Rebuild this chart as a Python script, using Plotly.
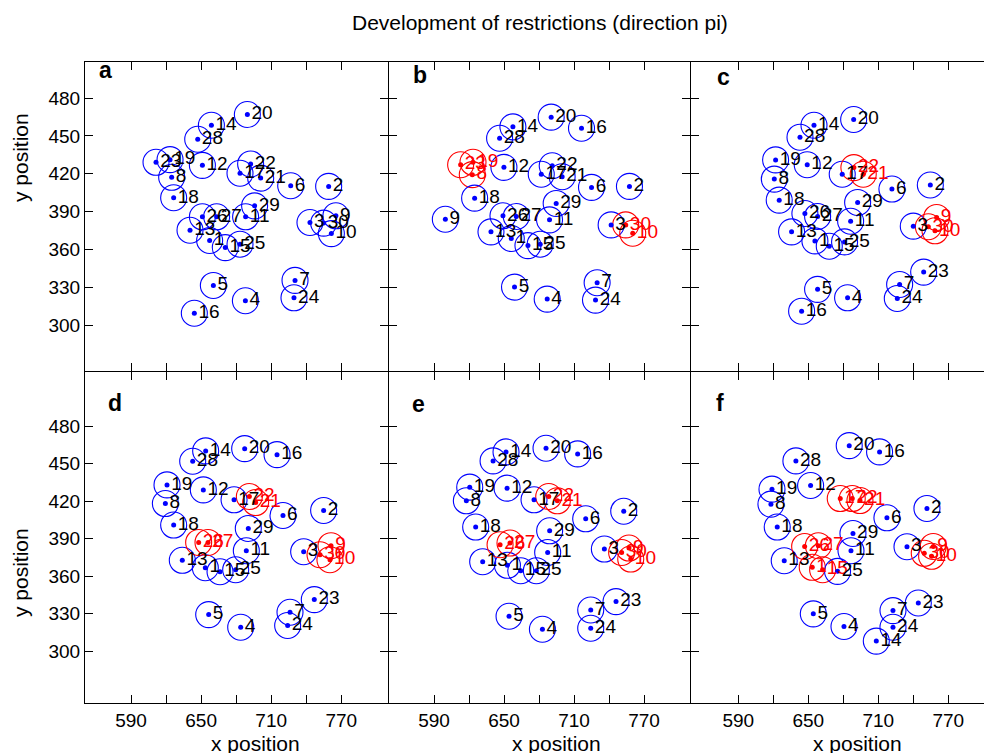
import plotly.graph_objects as go

# point ids 1..30
ids = list(range(1, 31))

# ---- panel a ----
a_x = [657.3, 759.2, 743.2, 687.9, 660.5, 726.7, 730.4, 624.8, 765.4, 761.5,
       688.1, 651.1, 640.5, 658.8, 670.7, 644.2, 683.3, 626.5, 623.4, 689.6,
       701.0, 692.4, 611.4, 729.5, 683.3, 651.1, 663.3, 647.1, 695.8, 754.9]
a_y = [367.1, 410.0, 381.4, 319.4, 331.5, 410.5, 335.5, 417.2, 386.7, 372.6,
       385.9, 426.7, 375.3, 458.5, 361.5, 309.5, 420.4, 401.0, 431.2, 467.0,
       416.6, 427.8, 429.1, 321.7, 364.2, 385.9, 385.9, 447.4, 394.6, 380.9]
a_red = []

# ---- panel b ----
b_x = [656.2, 757.5, 741.8, 687.0, 659.0, 725.0, 729.8, 622.8, 599.7, 760.3,
       689.0, 649.9, 638.8, 657.6, 670.5, 716.4, 681.9, 624.8, 623.4, 690.4,
       699.8, 691.3, 612.8, 728.4, 681.0, 649.1, 660.5, 646.2, 694.7, 754.3]
b_y = [368.7, 410.0, 379.5, 320.7, 330.2, 409.2, 333.7, 419.3, 384.0, 372.9,
       383.5, 425.1, 374.0, 457.2, 363.1, 456.1, 419.6, 400.7, 429.1, 464.9,
       417.7, 426.4, 427.2, 319.9, 364.2, 386.7, 386.2, 448.2, 396.5, 379.5]
b_red = [8, 10, 19, 23, 30]

# ---- panel c ----
c_x = [655.7, 754.6, 740.0, 683.7, 658.0, 721.7, 728.3, 620.9, 760.0, 758.6,
       686.3, 649.1, 635.7, 654.9, 668.0, 644.3, 679.1, 625.1, 622.0, 688.9,
       697.1, 689.1, 748.9, 726.3, 681.1, 647.1, 658.0, 642.9, 692.3, 752.9]
c_y = [366.8, 411.1, 378.5, 321.7, 328.4, 407.9, 332.3, 415.8, 385.4, 374.8,
       382.4, 427.2, 374.0, 458.5, 362.6, 311.1, 419.6, 399.1, 431.0, 463.0,
       419.6, 424.9, 342.1, 321.2, 366.0, 388.5, 386.2, 449.0, 397.3, 378.0]
c_red = [9, 10, 21, 22, 30]

# ---- panel d ----
d_x = [653.6, 754.9, 737.8, 683.9, 656.5, 720.1, 726.1, 619.4, 761.2, 760.3,
       688.7, 651.9, 633.9, 653.9, 666.2, 715.0, 678.2, 626.5, 620.8, 687.3,
       696.7, 691.3, 746.9, 724.1, 679.6, 647.9, 655.9, 642.8, 690.4, 751.8]
d_y = [366.7, 412.5, 379.5, 319.1, 329.2, 408.5, 331.1, 418.0, 384.3, 373.1,
       380.3, 428.9, 372.6, 460.1, 363.5, 457.1, 421.0, 400.8, 432.9, 461.9,
       418.8, 423.6, 341.2, 320.5, 365.1, 386.9, 386.9, 451.8, 398.1, 377.1]
d_red = [9, 10, 21, 22, 26, 27, 30]

# ---- panel e ----
e_x = [652.9, 752.6, 736.0, 682.9, 654.3, 720.0, 724.3, 617.7, 757.1, 758.6,
       687.4, 652.6, 631.7, 651.7, 664.3, 713.1, 675.7, 625.7, 620.6, 686.0,
       695.7, 688.3, 746.0, 724.3, 677.7, 646.6, 655.1, 640.6, 689.1, 750.8]
e_y = [368.6, 411.9, 381.6, 317.5, 327.9, 405.8, 332.9, 420.2, 382.4, 373.6,
       378.9, 430.3, 371.5, 459.3, 364.3, 457.7, 421.0, 399.2, 431.1, 462.2,
       420.2, 423.6, 339.6, 318.3, 364.3, 385.1, 386.4, 452.1, 396.2, 378.9]
e_red = [9, 10, 21, 22, 26, 27, 30]

# ---- panel f ----
f_x = [653.4, 751.7, 734.6, 680.6, 654.3, 717.4, 722.6, 618.0, 757.1, 755.7,
       686.6, 652.0, 629.4, 708.3, 662.3, 711.1, 677.4, 623.4, 618.9, 685.1,
       694.3, 687.7, 744.3, 722.6, 675.1, 646.9, 658.6, 639.4, 688.3, 749.4]
f_y = [367.0, 414.1, 383.5, 319.7, 329.8, 406.6, 332.4, 417.5, 383.7, 375.8,
       380.3, 432.4, 372.3, 308.0, 365.1, 459.3, 422.0, 399.2, 429.5, 464.3,
       420.4, 422.0, 338.5, 319.1, 363.8, 383.7, 384.3, 452.1, 394.1, 378.2]
f_red = [1, 9, 10, 15, 17, 21, 22, 26, 27, 30]

panel_letters = ["a", "b", "c", "d", "e", "f"]
x_ticks = [590, 620, 650, 680, 710, 740, 770]
x_ticktext = ["590", "", "650", "", "710", "", "770"]
y_ticks = [300, 330, 360, 390, 420, 450, 480]

FONT = "Liberation Sans, Arial, Helvetica, sans-serif"
BLUE = "#0000FF"
RED = "#FF0000"

W, H = 984, 753
L, R, T, B = 85, 0, 62, 50
PW = W - L - R
PH = H - T - B

def px_to_paper_x(px):
    return (px - L) / PW

def px_to_paper_y(py):
    return (H - B - py) / PH

panels = [
    (a_x, a_y, a_red), (b_x, b_y, b_red), (c_x, c_y, c_red),
    (d_x, d_y, d_red), (e_x, e_y, e_red), (f_x, f_y, f_red),
]

# 1px gaps so that neighbouring axis lines fall on the same pixel
x_domains = [[px_to_paper_x(85), px_to_paper_x(388)],
             [px_to_paper_x(389), px_to_paper_x(690)],
             [px_to_paper_x(691), 1.0]]
y_domains = [[px_to_paper_y(371), 1.0], [0.0, px_to_paper_y(372)]]
x_ranges = [[550.6, 810.0], [551.4, 809.4], [549.5, 800.6]]
y_ranges = [[263.7, 508.6], [258.5, 523.2]]

fig = go.Figure()
for k, (xs, ys, reds) in enumerate(panels):
    sfx = "" if k == 0 else str(k + 1)
    cols = [RED if i in reds else BLUE for i in ids]
    tcols = [RED if i in reds else "black" for i in ids]
    fig.add_trace(go.Scatter(
        x=xs, y=ys, mode="markers", xaxis="x" + sfx, yaxis="y" + sfx,
        marker=dict(symbol="circle-open", size=26, color=cols, line=dict(width=1.1, color=cols)),
        hoverinfo="skip", showlegend=False))
    fig.add_trace(go.Scatter(
        x=xs, y=ys, mode="markers+text", xaxis="x" + sfx, yaxis="y" + sfx,
        text=[str(i) for i in ids], textposition="middle right",
        textfont=dict(family=FONT, size=19, color=tcols),
        marker=dict(symbol="circle", size=5, color=cols),
        hoverinfo="skip", showlegend=False))

layout = dict(
    width=W, height=H, margin=dict(l=L, r=R, t=T, b=B, autoexpand=False),
    paper_bgcolor="white", plot_bgcolor="white",
    font=dict(family=FONT, size=19, color="black"),
    showlegend=False,
)
for k in range(6):
    row, col = divmod(k, 3)
    sfx = "" if k == 0 else str(k + 1)
    xa = dict(
        domain=x_domains[col], range=x_ranges[col], anchor="y" + sfx,
        showline=True, linecolor="black", linewidth=1, mirror="ticks",
        ticks="inside", ticklen=8, tickwidth=1, tickcolor="black",
        tickvals=x_ticks, ticktext=x_ticktext, showgrid=False, zeroline=False,
        showticklabels=(row == 1), tickfont=dict(family=FONT, size=19, color="black"),
    )
    ya = dict(
        domain=y_domains[row], range=y_ranges[row], anchor="x" + sfx,
        showline=True, linecolor="black", linewidth=1,
        mirror=("ticks" if col < 2 else False),
        ticks="inside", ticklen=8, tickwidth=1, tickcolor="black",
        tickvals=y_ticks, showgrid=False, zeroline=False,
        showticklabels=(col == 0), tickfont=dict(family=FONT, size=19, color="black"),
    )
    layout["xaxis" + sfx] = xa
    layout["yaxis" + sfx] = ya

annotations = []
# title
annotations.append(dict(text="Development of restrictions (direction pi)", x=px_to_paper_x(540),
                        y=px_to_paper_y(22), xref="paper", yref="paper", showarrow=False,
                        font=dict(family=FONT, size=21, color="black"), xanchor="center", yanchor="middle"))
# x titles
for cx in [255, 556, 857]:
    annotations.append(dict(text="x position", x=px_to_paper_x(cx), y=px_to_paper_y(743),
                            xref="paper", yref="paper", showarrow=False,
                            font=dict(family=FONT, size=21, color="black"),
                            xanchor="center", yanchor="middle"))
# y titles
for cy in [158, 573]:
    annotations.append(dict(text="y position", x=px_to_paper_x(20), y=px_to_paper_y(cy),
                            xref="paper", yref="paper", showarrow=False, textangle=-90,
                            font=dict(family=FONT, size=21, color="black"),
                            xanchor="center", yanchor="middle"))
# panel letters
letter_pos = [(105, 70), (420, 75), (723, 77), (115, 403), (418, 404), (720, 403)]
for lt, (lx, ly) in zip(panel_letters, letter_pos):
    annotations.append(dict(text="<b>%s</b>" % lt, x=px_to_paper_x(lx), y=px_to_paper_y(ly),
                            xref="paper", yref="paper", showarrow=False,
                            font=dict(family=FONT, size=23, color="black"),
                            xanchor="center", yanchor="middle"))
layout["annotations"] = annotations

fig.update_layout(**layout)
fig.write_html("out.html", config={"displayModeBar": False},
               post_script="document.body.style.margin='0';document.body.style.padding='0';document.body.style.overflow='hidden';")
